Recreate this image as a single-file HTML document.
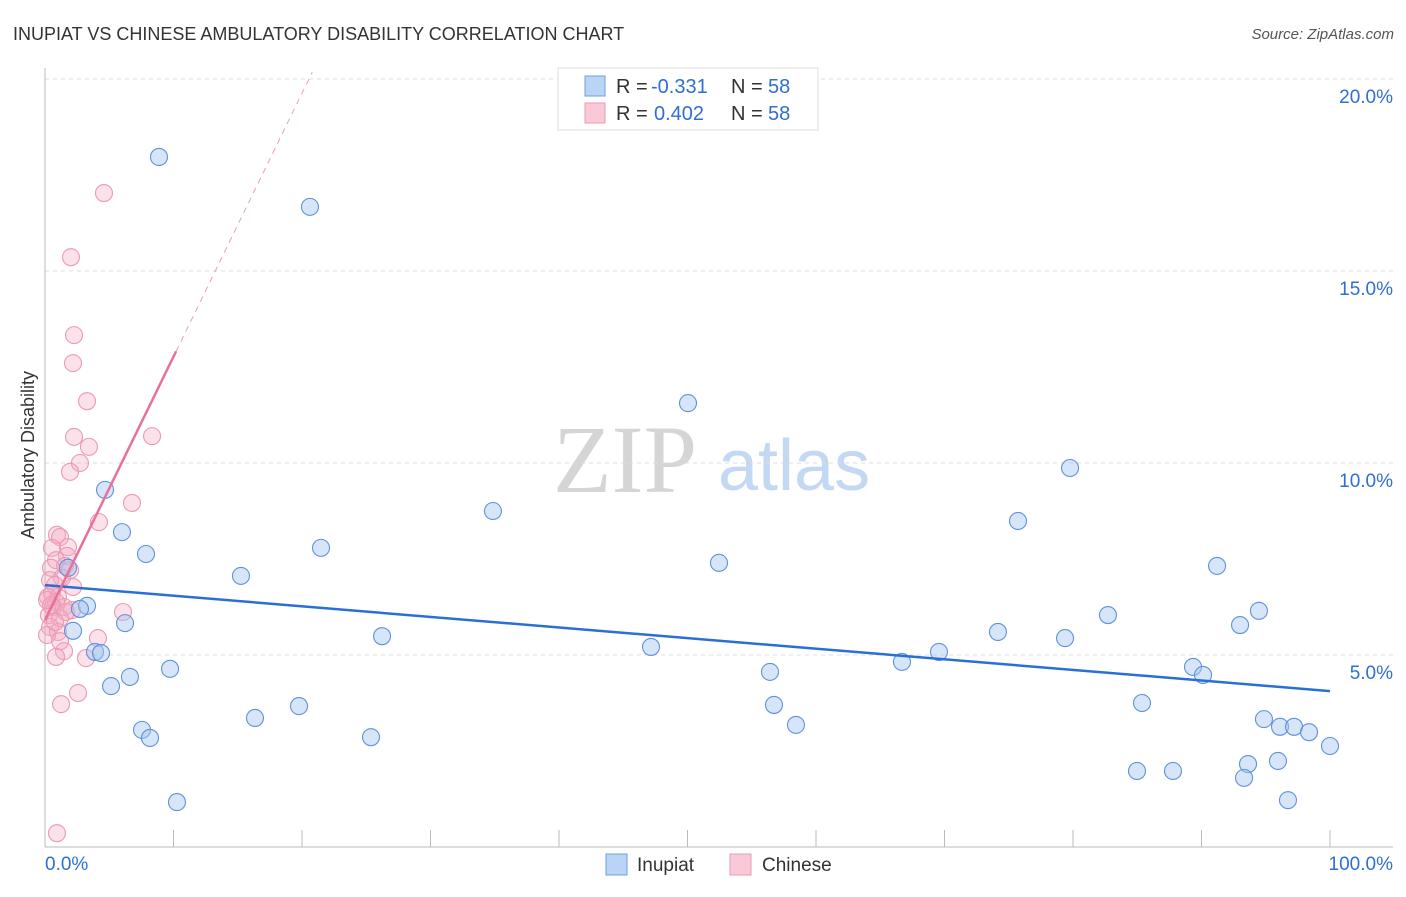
<!DOCTYPE html>
<html><head><meta charset="utf-8"><style>
body{margin:0;background:#fff;font-family:"Liberation Sans",sans-serif;}
svg text{font-family:"Liberation Sans",sans-serif;}
</style></head><body>
<svg id="chart" width="1406" height="892" xmlns="http://www.w3.org/2000/svg">
<text x="13" y="40" font-size="18" fill="#333">INUPIAT VS CHINESE AMBULATORY DISABILITY CORRELATION CHART</text>
<text x="1394" y="39" font-size="15" fill="#555" text-anchor="end" font-style="italic">Source: ZipAtlas.com</text>
<g>
<text x="553" y="492" font-size="96" fill="#d5d5d5" style="font-family:'Liberation Serif',serif">ZIP</text>
<text x="718" y="490" font-size="72" fill="#c3d8f2">atlas</text>
</g>
<g id="grid"></g>
<g id="axes"></g>
<g id="series"></g>
<text transform="translate(34,455) rotate(-90)" font-size="18" fill="#333" text-anchor="middle">Ambulatory Disability</text>
<g>
<rect x="558" y="68" width="260" height="62" fill="#fff" stroke="#ddd"/>
<rect x="585" y="76" width="20" height="20" fill="#b9d4f5" stroke="#6f9ee0"/>
<text x="616" y="93" font-size="20" fill="#333">R =</text>
<text x="651" y="93" font-size="20" fill="#2f6fd1">-0.331</text>
<text x="731" y="93" font-size="20" fill="#333">N =</text>
<text x="768" y="93" font-size="20" fill="#2f6fd1">58</text>
<rect x="585" y="103" width="20" height="20" fill="#f9c9d7" stroke="#ec9ab4"/>
<text x="616" y="120" font-size="20" fill="#333">R =</text>
<text x="654" y="120" font-size="20" fill="#2f6fd1">0.402</text>
<text x="731" y="120" font-size="20" fill="#333">N =</text>
<text x="768" y="120" font-size="20" fill="#2f6fd1">58</text>
</g>
<g>
<rect x="606" y="854" width="21" height="21" fill="#b9d4f5" stroke="#6f9ee0"/>
<text x="637" y="871" font-size="19" fill="#333">Inupiat</text>
<rect x="730" y="854" width="21" height="21" fill="#f9c9d7" stroke="#ec9ab4"/>
<text x="762" y="871" font-size="19" fill="#333">Chinese</text>
</g>
</svg>
<script>
const yTicks=[5,10,15,20];
const yTickLabels=["5.0%","10.0%","15.0%","20.0%"];
const xTicks=[0,10,20,30,40,50,60,70,80,90,100];
const inupiatX=[8.87,20.62,50.04,79.77,34.86,75.72,5.99,4.67,21.48,7.86,52.45,91.21,15.25,1.79,3.27,2.72,94.47,82.72,6.23,93.0,2.18,26.23,74.16,79.38,47.16,3.89,4.36,69.57,89.34,66.69,56.42,9.73,90.12,6.61,5.14,85.37,56.73,19.77,16.34,94.86,58.44,96.11,97.2,98.37,7.55,8.17,25.37,100,93.62,95.95,84.98,87.78,93.31,10.27,96.73];
const inupiatY=[17.97,16.67,11.56,9.87,8.75,8.49,8.2,9.3,7.79,7.63,7.4,7.32,7.06,7.27,6.28,6.2,6.15,6.04,5.83,5.78,5.63,5.49,5.6,5.44,5.21,5.08,5.05,5.08,4.69,4.82,4.56,4.64,4.48,4.43,4.19,3.75,3.7,3.67,3.36,3.33,3.18,3.13,3.13,2.99,3.05,2.84,2.86,2.63,2.16,2.24,1.98,1.98,1.8,1.17,1.22];
const chineseX=[4.59,2.02,2.26,2.18,3.27,2.26,3.42,8.33,2.72,1.95,6.77,4.2,0.93,1.17,0.54,1.79,1.71,0.86,1.56,0.47,1.95,1.32,2.18,0.39,0.78,0.54,1.01,0.23,0.86,0.62,1.48,2.1,6.07,0.31,1.17,0.39,1.01,0.16,4.12,1.17,1.48,0.86,3.19,2.57,1.25,0.93,0.47,1.63,0.78,0.16];
const chineseY=[17.03,15.36,13.33,12.6,11.61,10.68,10.42,10.7,10.0,9.77,8.96,8.46,8.13,8.07,7.79,7.81,7.58,7.47,7.32,7.27,7.21,7.01,6.77,6.95,6.82,6.61,6.51,6.51,6.38,6.25,6.25,6.17,6.12,6.04,5.96,5.73,5.6,5.52,5.44,5.36,5.1,4.95,4.92,4.01,3.72,0.36,6.3,6.12,5.86,6.43];
const inupiatTrend=[6.82,4.06];
const chineseTrend=[5.91,0.686];
const NS="http://www.w3.org/2000/svg";
const X=v=>45+v*12.85, Y=v=>847-v*38.4;
function mk(parent,tag,attrs){const e=document.createElementNS(NS,tag);for(const k in attrs)e.setAttribute(k,attrs[k]);document.getElementById(parent).appendChild(e);return e;}
yTicks.forEach((t,i)=>{
 const g=mk('grid','line',{x1:45,x2:1393,y1:Y(t),y2:Y(t),stroke:'#ddd','stroke-dasharray':'4,4'});
 
 
 const l=mk('axes','text',{x:1393,y:Y(t)+24,'font-size':19,fill:'#2f6fd1','text-anchor':'end'});
 l.textContent=yTickLabels[i];
 
 
});
const ax=mk('axes','line',{x1:45,x2:1393,y1:847,y2:847,stroke:'#bbb'});


const ay=mk('axes','line',{x1:45,x2:45,y1:68,y2:847,stroke:'#bbb'});


xTicks.forEach(t=>{
 const k=mk('axes','line',{x1:X(t),x2:X(t),y1:830,y2:847,stroke:'#bbb'});
 
 
});
const xl0=mk('axes','text',{x:45,y:870,'font-size':19,fill:'#2f6fd1'});xl0.textContent='0.0%';


const xl1=mk('axes','text',{x:1393,y:870,'font-size':19,fill:'#2f6fd1','text-anchor':'end'});xl1.textContent='100.0%';


chineseX.forEach((v,i)=>{
 const c=mk('series','circle',{cx:X(v),cy:Y(chineseY[i]),r:8.5,fill:'rgba(244,170,195,0.35)',stroke:'#eb9ab3','stroke-width':1.1});
 
 
});
inupiatX.forEach((v,i)=>{
 const c=mk('series','circle',{cx:X(v),cy:Y(inupiatY[i]),r:8.5,fill:'rgba(165,198,240,0.45)',stroke:'#5f92da','stroke-width':1.1});
 
 
});
const bt=mk('series','line',{x1:X(0),y1:Y(inupiatTrend[0]),x2:X(100),y2:Y(inupiatTrend[1]),stroke:'#2a6fd6','stroke-width':2.5});


const pc=x=>chineseTrend[0]+chineseTrend[1]*x;
const pt=mk('series','line',{x1:X(0),y1:Y(pc(0)),x2:X(10.2),y2:Y(pc(10.2)),stroke:'#e8709a','stroke-width':2.5});


const pd=mk('series','line',{x1:X(10.2),y1:Y(pc(10.2)),x2:X(20.8),y2:Y(pc(20.8)),stroke:'#e8a0b8','stroke-width':1,'stroke-dasharray':'6,5'});


</script>
</body></html>
